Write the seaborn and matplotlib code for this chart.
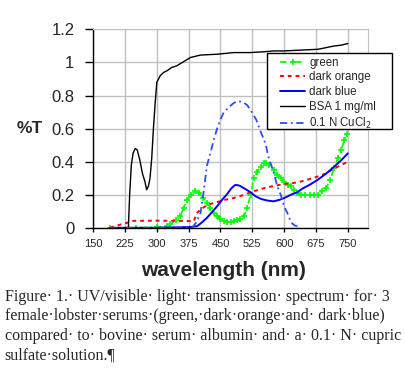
import matplotlib
matplotlib.use("Agg")
import seaborn as sns
from matplotlib import pyplot as plt
from matplotlib.patches import Rectangle

# wavelength (nm) / %T pairs
green_wl = [190, 250, 300, 324, 332, 345, 355, 363, 371, 380, 390, 400, 410, 418, 426, 434, 442,
            450, 458, 466, 474, 482, 489, 497, 505, 513, 521, 529, 537, 545, 552, 557, 565, 576,
            584, 592, 600, 608, 616, 624, 631, 640, 650, 660, 670, 679, 689, 699, 708, 718, 726,
            734, 742, 747]
green_t = [0.0, 0.0, 0.005, 0.01, 0.02, 0.05, 0.07, 0.12, 0.17, 0.2, 0.22, 0.21, 0.18, 0.15, 0.12,
           0.09, 0.07, 0.055, 0.04, 0.037, 0.035, 0.04, 0.045, 0.055, 0.07, 0.12, 0.2, 0.3, 0.34,
           0.37, 0.39, 0.395, 0.38, 0.35, 0.32, 0.3, 0.28, 0.26, 0.25, 0.23, 0.21, 0.2, 0.2, 0.2,
           0.2, 0.2, 0.22, 0.24, 0.29, 0.36, 0.42, 0.47, 0.53, 0.57]

orange_wl = [190, 215, 230, 241, 300, 350, 387, 395, 403, 420, 442, 462, 481, 500, 521, 540, 560,
             580, 600, 620, 640, 660, 679, 700, 718, 735, 750]
orange_t = [0.0, 0.02, 0.03, 0.042, 0.043, 0.042, 0.04, 0.09, 0.11, 0.14, 0.155, 0.17, 0.18, 0.195,
            0.215, 0.23, 0.245, 0.255, 0.265, 0.27, 0.28, 0.295, 0.31, 0.33, 0.36, 0.38, 0.40]

blue_wl = [190, 300, 380, 395, 405, 418, 430, 442, 454, 466, 476, 485, 495, 505, 521, 533, 545,
           560, 575, 590, 600, 616, 631, 645, 660, 679, 700, 718, 735, 750]
blue_t = [0.0, 0.0, 0.005, 0.01, 0.03, 0.06, 0.095, 0.13, 0.17, 0.205, 0.24, 0.26, 0.255, 0.24,
          0.215, 0.19, 0.175, 0.165, 0.16, 0.17, 0.18, 0.2, 0.215, 0.24, 0.26, 0.29, 0.33, 0.37,
          0.41, 0.45]

bsa_wl = [190, 233, 236, 240, 244, 249, 254, 260, 266, 272, 276, 280, 284, 288, 292, 296, 300,
          308, 316, 324, 335, 347, 360, 379, 403, 442, 481, 520, 553, 575, 600, 640, 680, 718, 735,
          750]
bsa_t = [0.0, 0.0, 0.2, 0.38, 0.45, 0.48, 0.47, 0.41, 0.33, 0.28, 0.23, 0.25, 0.3, 0.42, 0.6,
         0.75, 0.88, 0.92, 0.94, 0.95, 0.97, 0.98, 1.0, 1.03, 1.045, 1.05, 1.06, 1.06, 1.065,
         1.07, 1.07, 1.075, 1.08, 1.1, 1.105, 1.115]

cucl_wl = [190, 300, 385, 392, 398, 403, 410, 418, 426, 434, 442, 450, 458, 470, 481, 492, 503,
           513, 524, 535, 545, 553, 557, 562, 568, 576, 584, 592, 600, 608, 616, 624, 631]
cucl_t = [0.0, 0.0, 0.005, 0.03, 0.06, 0.09, 0.21, 0.375, 0.45, 0.53, 0.6, 0.655, 0.7, 0.73,
          0.755, 0.766, 0.76, 0.742, 0.7, 0.65, 0.58, 0.53, 0.5, 0.44, 0.39, 0.33, 0.25, 0.2,
          0.13, 0.087, 0.035, 0.015, 0.01]

x_ticks = [150, 225, 300, 375, 450, 525, 600, 675, 750]
y_ticks = [0, 0.2, 0.4, 0.6, 0.8, 1.0, 1.2]
y_labels = ['0', '0.2', '0.4', '0.6', '0.8', '1', '1.2']

sns.set_style('white')
plt.rcParams['font.family'] = ['Liberation Sans', 'DejaVu Sans']

fig = plt.figure(figsize=(4.05, 3.68), dpi=100)
ax = fig.add_axes([0.230, 0.381, 0.678, 0.539])

sns.lineplot(x=green_wl, y=green_t, ax=ax, color='#00ff00', lw=1.2, linestyle=(0, (4, 2, 1, 2)),
             marker='+', markersize=4, markeredgewidth=1.2, markeredgecolor='#00ff00',
             label='green')
sns.lineplot(x=orange_wl, y=orange_t, ax=ax, color='#ff0000', lw=1.4, linestyle=(0, (2, 2)),
             label='dark orange')
sns.lineplot(x=blue_wl, y=blue_t, ax=ax, color='#0000ff', lw=1.4, label='dark blue')
sns.lineplot(x=bsa_wl, y=bsa_t, ax=ax, color='black', lw=1.0, label='BSA 1 mg/ml')
sns.lineplot(x=cucl_wl, y=cucl_t, ax=ax, color='#2b4cff', lw=1.3, linestyle=(0, (4, 2, 1, 2)),
             label='0.1 N CuCl$_2$')

ax.set_xlim(150, 797)
ax.set_ylim(0, 1.2)
ax.set_xticks(x_ticks)
ax.set_xticklabels([str(t) for t in x_ticks], fontsize=8)
ax.set_yticks(y_ticks)
ax.set_yticklabels(y_labels, fontsize=12)
ax.grid(True, color='#c0c0c0', lw=1)
ax.set_axisbelow(True)
for side in ['top', 'right']:
    ax.spines[side].set_color('#c0c0c0')
for side in ['left', 'bottom']:
    ax.spines[side].set_color('black')
    ax.spines[side].set_linewidth(1)
ax.tick_params(axis='both', direction='out', width=1, color='black', bottom=True, left=True)
ax.tick_params(axis='x', length=3, pad=5)
ax.tick_params(axis='y', length=5.5, pad=8)

ax.set_xlabel('wavelength (nm)', fontsize=15, fontweight='bold')
ax.xaxis.set_label_coords(0.474, -0.165)
ax.set_ylabel('')
fig.text(0.041, 0.381 + 0.5 * 0.539, '%T', fontsize=12.5, fontweight='bold', ha='left', va='center')

# legend box as drawn in the original, wider than the entries
ax.add_patch(Rectangle((0.6585, 0.6486), 0.3086, 0.2065, transform=fig.transFigure, clip_on=False,
                       facecolor='white', edgecolor='black', lw=1, zorder=4.9))
leg = ax.legend(loc='upper left', bbox_to_anchor=(0.6914, 0.846), bbox_transform=fig.transFigure,
                fontsize=8.3, frameon=False, handlelength=2.17, handletextpad=0.37,
                borderpad=0, labelspacing=0.24, borderaxespad=0)

caption = ('Figure\u00b7 1.\u00b7 UV/visible\u00b7 light\u00b7 transmission\u00b7 spectrum\u00b7 for\u00b7 3\n'
           'female\u00b7lobster\u00b7serums\u00b7(green,\u00b7dark\u00b7orange\u00b7and\u00b7 dark\u00b7blue)\n'
           'compared\u00b7 to\u00b7 bovine\u00b7 serum\u00b7 albumin\u00b7 and\u00b7 a\u00b7 0.1\u00b7 N\u00b7 cupric\n'
           'sulfate\u00b7solution.\u00b6')
fig.text(0.012, 0.216, caption, fontsize=11.5, family=['Liberation Serif', 'DejaVu Serif'],
         ha='left', va='top', linespacing=1.3)

fig.savefig('out.png', dpi=100)
